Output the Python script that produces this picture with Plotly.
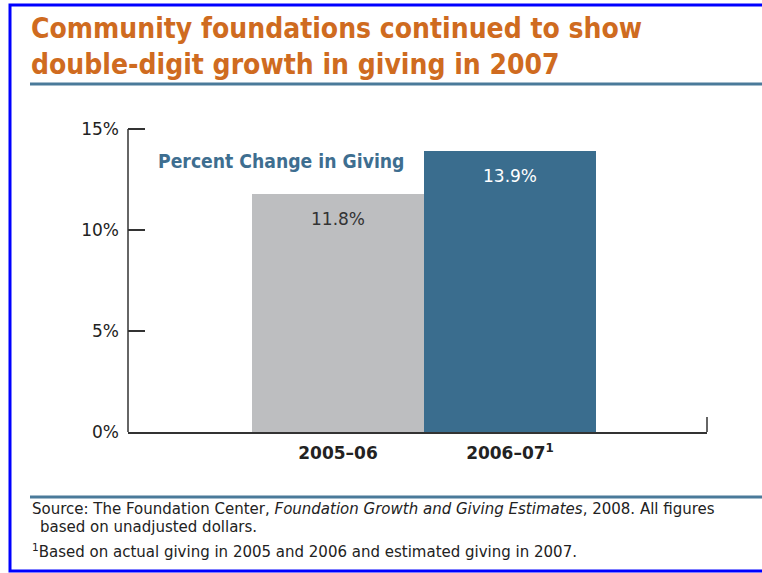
import plotly.graph_objects as go

# Data
periods = ["2005–06", "2006–07"]
period_labels = ["<b>2005–06</b>", "<b>2006–07<sup>1</sup></b>"]
pct_change = [11.8, 13.9]
bar_colors = ["#BDBEC0", "#3A6D8E"]
label_colors = ["#333333", "#FFFFFF"]
y_ticks = [0, 5, 10, 15]
y_tick_text = ["0%", "5%", "10%", "15%"]

W, H = 762, 573
L, R, T, B = 128, 707, 126, 432  # plot area in pixels
Y_TOP = 15.15


def px(x):
    return (x - L) / (R - L)


def py(y):
    return (B - y) / (B - T)


FONT = "DejaVu Sans, Liberation Sans, sans-serif"
COND = "DejaVu Sans Condensed, Roboto, sans-serif"

fig = go.Figure()
fig.add_trace(go.Bar(
    x=[0, 1],
    y=pct_change,
    width=1.0,
    marker=dict(color=bar_colors, line=dict(width=0)),
    hoverinfo="skip",
))

annotations = [
    dict(text="<b>Community foundations continued to show<br>double-digit growth in giving in 2007</b>",
         x=px(29), y=py(10), xanchor="left", yanchor="top", align="left",
         font=dict(family=COND, size=28, color="#CF6B20")),
    dict(text="<b>Percent Change in Giving</b>",
         x=px(156), y=py(161), xanchor="left", yanchor="middle",
         font=dict(family=COND, size=19.2, color="#3E6E90")),
    dict(text="Source: The Foundation Center, <i>Foundation Growth and Giving Estimates</i>, 2008. All figures",
         x=px(30), y=py(509), xanchor="left", yanchor="middle",
         font=dict(family=FONT, size=15, color="#222222")),
    dict(text="based on unadjusted dollars.",
         x=px(38), y=py(527), xanchor="left", yanchor="middle",
         font=dict(family=FONT, size=15, color="#222222")),
    dict(text="<sup>1</sup>Based on actual giving in 2005 and 2006 and estimated giving in 2007.",
         x=px(30), y=py(551), xanchor="left", yanchor="middle",
         font=dict(family=FONT, size=15, color="#222222")),
]
for a in annotations:
    a.update(xref="paper", yref="paper", showarrow=False)

# value labels sit just below the top of each bar
for i, v in enumerate(pct_change):
    annotations.append(dict(
        text=f"{v:.1f}%", x=i, y=v, xref="x", yref="y",
        yshift=-25, yanchor="middle", xanchor="center", showarrow=False,
        font=dict(family=FONT, size=17, color=label_colors[i]),
    ))

shapes = [
    # rules under the title and above the notes
    dict(type="line", xref="paper", yref="paper", x0=px(30), x1=px(765), y0=py(84), y1=py(84),
         line=dict(color="#4A7A9A", width=3)),
    dict(type="line", xref="paper", yref="paper", x0=px(30), x1=px(765), y0=py(497), y1=py(497),
         line=dict(color="#4A7A9A", width=3)),
    # end mark on the category axis
    dict(type="line", xref="paper", yref="paper", x0=1, x1=1, y0=0, y1=py(417),
         line=dict(color="#333333", width=1.5)),
    # page frame
    dict(type="rect", xref="paper", yref="paper", x0=px(10), x1=px(800), y0=py(5), y1=py(571),
         line=dict(color="#0000FF", width=3), fillcolor="rgba(0,0,0,0)"),
]

fig.update_layout(
    width=W, height=H,
    margin=dict(l=L, r=W - R, t=T, b=H - B),
    paper_bgcolor="white", plot_bgcolor="white",
    showlegend=False,
    bargap=0,
    annotations=annotations,
    shapes=shapes,
    xaxis=dict(
        range=[-(338 - L) / 172, 1 + (R - 510) / 172],
        tickmode="array", tickvals=[0, 1], ticktext=period_labels,
        showgrid=False, zeroline=False,
        showline=True, linecolor="#333333", linewidth=1.5,
        ticks="", ticklabelstandoff=5,
        tickfont=dict(family=FONT, size=17, color="#222222"),
        fixedrange=True,
    ),
    yaxis=dict(
        range=[0, Y_TOP],
        tickmode="array", tickvals=y_ticks, ticktext=y_tick_text,
        showgrid=False, zeroline=False,
        showline=False,
        ticks="inside", ticklen=17, tickwidth=1.5, tickcolor="#333333",
        ticklabelstandoff=8,
        tickfont=dict(family=FONT, size=17, color="#222222"),
        fixedrange=True,
    ),
)

# value axis line runs from 0 to the top tick only
fig.add_shape(type="line", xref="paper", yref="y", x0=0, x1=0, y0=0, y1=y_ticks[-1],
              line=dict(color="#333333", width=1.5))

fig.write_html("out.html")
